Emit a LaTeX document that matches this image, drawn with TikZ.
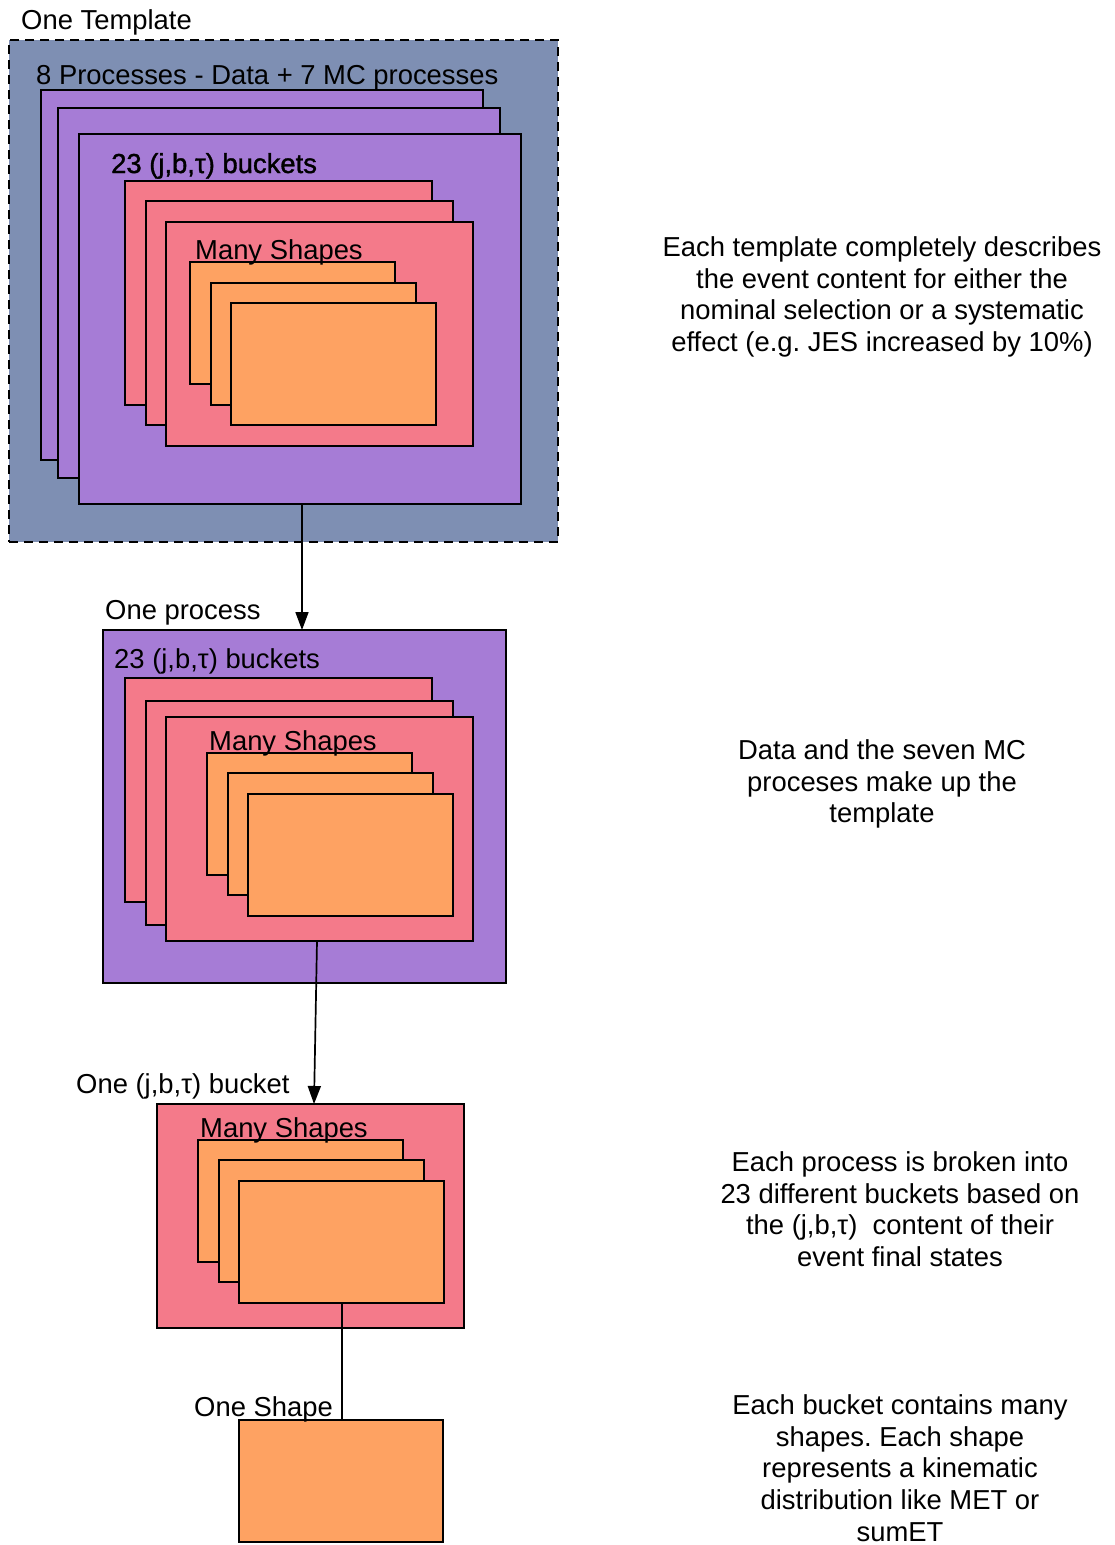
\documentclass[tikz,border=0pt]{standalone}
\usepackage{fontspec}
\setmainfont{Liberation Sans}
\newfontfamily\semib[FakeBold=1.3]{Liberation Sans}
\usetikzlibrary{arrows.meta,calc}
\definecolor{tmplbg}{RGB}{126,143,179}
\definecolor{procfill}{RGB}{166,124,214}
\definecolor{buckfill}{RGB}{244,122,138}
\definecolor{shapefill}{RGB}{254,162,98}
\frenchspacing
\begin{document}
\begin{tikzpicture}[x=1pt,y=-1pt,
  box/.style={draw=black,line width=1.7pt,inner sep=0pt,outer sep=0pt,anchor=north west},
  proc/.style={box,fill=procfill},
  buck/.style={box,fill=buckfill},
  shp/.style={box,fill=shapefill},
  lbl/.style={anchor=base west,inner sep=0pt,font=\fontsize{27.4}{32}\selectfont},
  note/.style={align=center,inner sep=0pt,font=\fontsize{27.4}{31.6}\selectfont},
  conn/.style={draw=black,line width=1.7pt},
  arr/.style={conn,-{Triangle[length=18pt,width=13pt]}}]
\useasboundingbox (0,0) rectangle (1114,1545);
\fill[white] (0,0) rectangle (1114,1545);

% ---------- One template ----------
\node[box,fill=tmplbg,dashed,dash pattern=on 9pt off 6pt,minimum width=549pt,minimum height=502pt] (tmpl) at (9,40) {};
\node[lbl] (tmpllbl) at (21,29) {One Template};
\node[lbl] (proclist) at (36,84) {8 Processes - Data + 7 MC processes};
\node[proc,minimum width=442pt,minimum height=370pt] (p1) at (41,90) {};
\node[proc,minimum width=442pt,minimum height=370pt] (p2) at (58,108) {};
\node[proc,minimum width=442pt,minimum height=370pt] (p3) at (79,134) {};
\node[lbl,font=\fontsize{27.4}{32}\semib] (buckl1) at (111,173) {23 (j,b,τ) buckets};
\node[buck,minimum width=307pt,minimum height=224pt] (b1) at (125,181) {};
\node[buck,minimum width=307pt,minimum height=224pt] (b2) at (146,201) {};
\node[buck,minimum width=307pt,minimum height=224pt] (b3) at (166,222) {};
\node[shp,minimum width=205pt,minimum height=122pt] (s1) at (190,262) {};
\node[shp,minimum width=205pt,minimum height=122pt] (s2) at (211,283) {};
\node[shp,minimum width=205pt,minimum height=122pt] (s3) at (231,303) {};
\node[lbl] (ms1) at (195,259) {Many Shapes};

% ---------- One process ----------
\node[proc,minimum width=403pt,minimum height=353pt] (proc) at (103,630) {};
\node[lbl] (proclbl) at (105,619) {One process};
\node[lbl] (buckl2) at (114,668) {23 (j,b,τ) buckets};
\node[buck,minimum width=307pt,minimum height=224pt] (b4) at (125,678) {};
\node[buck,minimum width=307pt,minimum height=224pt] (b5) at (146,701) {};
\node[buck,minimum width=307pt,minimum height=224pt] (b6) at (166,717) {};
\node[shp,minimum width=205pt,minimum height=122pt] (s4) at (207,753) {};
\node[shp,minimum width=205pt,minimum height=122pt] (s5) at (228,773) {};
\node[shp,minimum width=205pt,minimum height=122pt] (s6) at (248,794) {};
\node[lbl] (ms2) at (209,750) {Many Shapes};

% ---------- One bucket ----------
\node[buck,minimum width=307pt,minimum height=224pt] (bucket) at (157,1104) {};
\node[lbl] (bucklbl) at (76,1093) {One (j,b,τ) bucket};
\node[shp,minimum width=205pt,minimum height=122pt] (s7) at (198,1140) {};
\node[shp,minimum width=205pt,minimum height=122pt] (s8) at (219,1160) {};
\node[shp,minimum width=205pt,minimum height=122pt] (s9) at (239,1181) {};
\node[lbl] (ms3) at (200,1137) {Many Shapes};

% ---------- One shape ----------
\node[shp,minimum width=204pt,minimum height=122pt] (shape) at (239,1420) {};
\node[lbl] (shapelbl) at (194,1416) {One Shape};

% ---------- connectors ----------
\coordinate (a1s) at ($(p3.south west)+(223,0)$);
\coordinate (a1e) at ($(proc.north west)+(199,0)$);
\draw[arr] (a1s) -- (a1e);
\coordinate (a2s) at ($(b6.south west)+(151,0)$);
\coordinate (a2e) at ($(bucket.north west)+(157,0)$);
\draw[arr] (a2s) -- (a2e);
\coordinate (l3s) at ($(s9.south west)+(103,0)$);
\coordinate (l3e) at ($(shape.north west)+(103,0)$);
\draw[conn] (l3s) -- (l3e);

% ---------- notes ----------
\node[note] (n1) at (882,297) {Each template completely describes\\the event content for either the\\nominal selection or a systematic\\effect (e.g. JES increased by 10\%)};
\node[note] (n2) at (882,784) {Data and the seven MC\\proceses make up the\\template};
\node[note] (n3) at (900,1209) {Each process is broken into\\23 different buckets based on\\the (j,b,τ)~ content of their\\event final states};
\node[note] (n4) at (900,1468) {Each bucket contains many\\shapes. Each shape\\represents a kinematic\\distribution like MET or\\sumET};
\end{tikzpicture}
\end{document}
